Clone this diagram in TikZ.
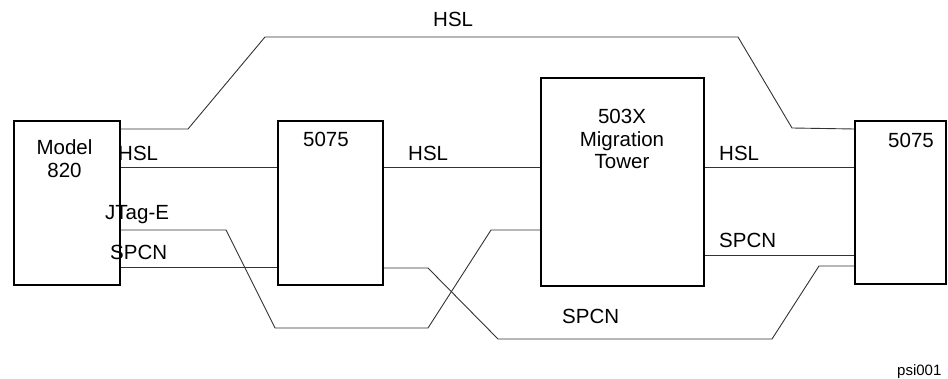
\documentclass[tikz,border=0pt]{standalone}
\usepackage{fontspec}
\setmainfont{Liberation Sans}
\begin{document}
\begin{tikzpicture}[x=1pt,y=-1pt,
  box/.style={draw=black,line width=1.6pt,rectangle,inner sep=0pt},
  wire/.style={draw=black!80,line width=0.9pt},
  lbl/.style={inner sep=0pt,font=\fontsize{20.5}{24}\selectfont,anchor=base west},
  ctr/.style={inner sep=0pt,font=\fontsize{20.5}{24}\selectfont,anchor=base},
  tag/.style={inner sep=0pt,font=\fontsize{15}{18}\selectfont,anchor=base west}]
\useasboundingbox (0,0) rectangle (948,379);
% boxes
\node[box,minimum width=106pt,minimum height=164pt] (m820) at (67,203) {};
\node[box,minimum width=105pt,minimum height=164pt] (b1) at (330.5,203) {};
\node[box,minimum width=163pt,minimum height=208pt] (tw) at (622.5,182) {};
\node[box,minimum width=91pt,minimum height=163pt] (b2) at (900.5,202.5) {};
% box texts
\node[ctr] (tm1) at (64.5,155) {Model};
\node[ctr] (tm2) at (64.5,178) {820};
\node[lbl] (tb1) at (303,147) {5075};
\node[lbl] (tb2) at (888,148) {5075};
\node[ctr] (tt1) at (622,124) {503X};
\node[ctr] (tt2) at (622,147) {Migration};
\node[ctr] (tt3) at (622,169) {Tower};
% connector labels
\node[lbl] (lh0) at (433,27) {HSL};
\node[lbl] (lh1) at (118,161) {HSL};
\node[lbl] (lh2) at (408,161) {HSL};
\node[lbl] (lh3) at (719,161) {HSL};
\node[lbl] (lj) at (105,220) {JTag-E};
\node[lbl] (ls1) at (110,260) {SPCN};
\node[lbl] (ls2) at (719,248) {SPCN};
\node[lbl] (ls3) at (562,324) {SPCN};
\node[tag] (psi) at (897,375) {psi001};
% connectors
\draw[wire] (m820.east |- 0,129) -- (188,129) -- (265,37) -- (738,37) -- (792,128) -- (b2.west |- 0,129);
\draw[wire] (m820.east |- 0,167) -- (b1.west |- 0,167);
\draw[wire] (b1.east |- 0,167) -- (tw.west |- 0,167);
\draw[wire] (tw.east |- 0,167) -- (b2.west |- 0,167);
\draw[wire] (m820.east |- 0,230) -- (226,230) -- (275,328) -- (428,328) -- (491,230) -- (tw.west |- 0,230);
\draw[wire] (m820.east |- 0,267) -- (b1.west |- 0,267);
\draw[wire] (b1.east |- 0,268) -- (428,268) -- (498,339) -- (772,339) -- (819,266) -- (b2.west |- 0,266);
\draw[wire] (tw.east |- 0,255) -- (b2.west |- 0,255);
\end{tikzpicture}
\end{document}
